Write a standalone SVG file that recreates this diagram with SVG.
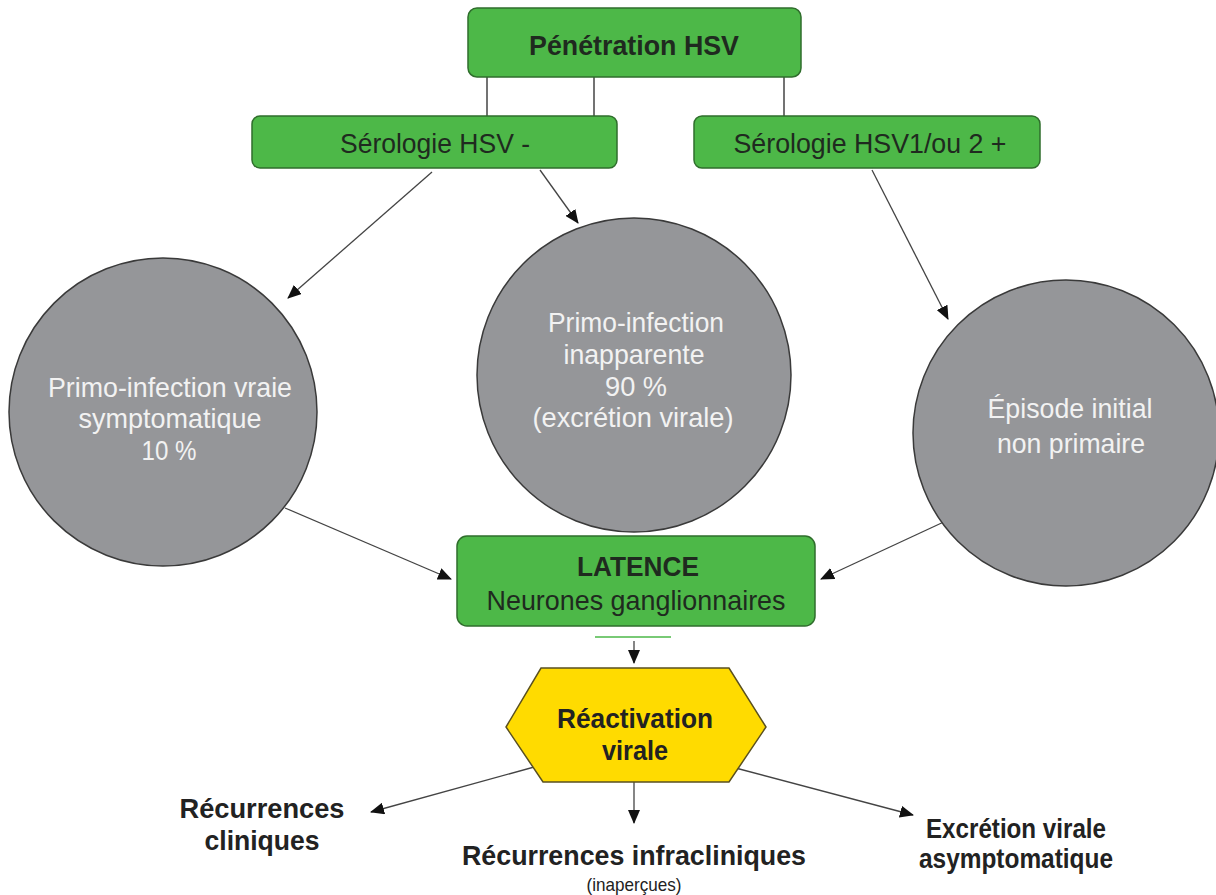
<svg xmlns="http://www.w3.org/2000/svg" width="1216" height="895" viewBox="0 0 1216 895">
<defs>
<style>
.box{fill:#4db848;stroke:#2f6e2c;stroke-width:1.5}
.circ{fill:#959699;stroke:#3a3a3a;stroke-width:1.5}
.hex{fill:#ffdb00;stroke:#5a5020;stroke-width:1.5}
.t{font-family:"Liberation Sans",Arial,sans-serif;font-size:28px;text-anchor:middle}
.dark{fill:#1f2a1f}
.b{font-weight:bold}
.w{fill:#f2f2f2}
.k{fill:#222}
.ln{stroke:#444;stroke-width:1.5;fill:none}
.ar{stroke:#444;stroke-width:1.3;fill:none;marker-end:url(#ah)}
</style>
<marker id="ah" markerWidth="14" markerHeight="12" refX="13" refY="6" orient="auto" markerUnits="userSpaceOnUse">
<path d="M0,0 L14,6 L0,12 Z" fill="#111"/>
</marker>
</defs>
<rect width="1216" height="895" fill="#ffffff"/>

<g id="connectors">
<line class="ln" x1="487" y1="77" x2="487" y2="116"/>
<line class="ln" x1="594" y1="77" x2="594" y2="116"/>
<line class="ln" x1="784" y1="77" x2="784" y2="116"/>
<line class="ar" x1="432" y1="172" x2="288" y2="298"/>
<line class="ar" x1="540" y1="170" x2="578" y2="223"/>
<line class="ar" x1="872" y1="170" x2="948" y2="319"/>
<line class="ar" x1="285" y1="508" x2="451" y2="579"/>
<line class="ar" x1="948" y1="520" x2="821" y2="579"/>
<line x1="595" y1="637" x2="671" y2="637" stroke="#4db848" stroke-width="1.5"/>
<line class="ar" x1="634" y1="641" x2="634" y2="663"/>
<line class="ar" x1="545" y1="764" x2="371" y2="812"/>
<line class="ar" x1="634" y1="782" x2="634" y2="823"/>
<line class="ar" x1="728" y1="766" x2="913" y2="815"/>
</g>

<g id="penetration">
<rect class="box" x="468" y="8" width="333" height="69" rx="9"/>
<text class="t b dark" x="634" y="55" textLength="210" lengthAdjust="spacingAndGlyphs">Pénétration HSV</text>
</g>
<g id="serologie-neg">
<rect class="box" x="252" y="116" width="365" height="52" rx="8"/>
<text class="t dark" x="435" y="153" textLength="190" lengthAdjust="spacingAndGlyphs">Sérologie HSV -</text>
</g>
<g id="serologie-pos">
<rect class="box" x="694" y="116" width="346" height="52" rx="8"/>
<text class="t dark" x="870" y="153" textLength="273" lengthAdjust="spacingAndGlyphs">Sérologie HSV1/ou 2 +</text>
</g>

<g id="primo-vraie">
<circle class="circ" cx="163" cy="412" r="154"/>
<text class="t w" x="170" y="397" textLength="244" lengthAdjust="spacingAndGlyphs">Primo-infection vraie</text>
<text class="t w" x="170" y="428" textLength="183" lengthAdjust="spacingAndGlyphs">symptomatique</text>
<text class="t w" x="169" y="460" textLength="55" lengthAdjust="spacingAndGlyphs">10 %</text>
</g>
<g id="primo-inapparente">
<circle class="circ" cx="634" cy="375" r="157"/>
<text class="t w" x="636" y="332" textLength="176" lengthAdjust="spacingAndGlyphs">Primo-infection</text>
<text class="t w" x="634" y="364" textLength="141" lengthAdjust="spacingAndGlyphs">inapparente</text>
<text class="t w" x="636" y="396" textLength="62" lengthAdjust="spacingAndGlyphs">90 %</text>
<text class="t w" x="633" y="427" textLength="201" lengthAdjust="spacingAndGlyphs">(excrétion virale)</text>
</g>
<g id="episode-initial">
<circle class="circ" cx="1066" cy="433" r="153"/>
<text class="t w" x="1070" y="418" textLength="165" lengthAdjust="spacingAndGlyphs">Épisode initial</text>
<text class="t w" x="1071" y="453" textLength="148" lengthAdjust="spacingAndGlyphs">non primaire</text>
</g>

<g id="latence">
<rect class="box" x="457" y="536" width="358" height="90" rx="10"/>
<text class="t b dark" x="638" y="576" textLength="122" lengthAdjust="spacingAndGlyphs">LATENCE</text>
<text class="t dark" x="636" y="610" textLength="299" lengthAdjust="spacingAndGlyphs">Neurones ganglionnaires</text>
</g>

<g id="reactivation">
<polygon class="hex" points="541,668 729,668 766,727 729,782 543,782 506,727"/>
<text class="t b k" x="635" y="728" textLength="156" lengthAdjust="spacingAndGlyphs">Réactivation</text>
<text class="t b k" x="635" y="760" textLength="66" lengthAdjust="spacingAndGlyphs">virale</text>
</g>

<g id="recurrences-cliniques">
<text class="t b k" x="262" y="818" textLength="165" lengthAdjust="spacingAndGlyphs">Récurrences</text>
<text class="t b k" x="262" y="850" textLength="115" lengthAdjust="spacingAndGlyphs">cliniques</text>
</g>
<g id="recurrences-infracliniques">
<text class="t b k" x="634" y="865" textLength="344" lengthAdjust="spacingAndGlyphs">Récurrences infracliniques</text>
<text class="t k" x="634" y="891" style="font-size:19px" textLength="95" lengthAdjust="spacingAndGlyphs">(inaperçues)</text>
</g>
<g id="excretion-virale">
<text class="t b k" x="1016" y="838" textLength="180" lengthAdjust="spacingAndGlyphs">Excrétion virale</text>
<text class="t b k" x="1016" y="868" textLength="194" lengthAdjust="spacingAndGlyphs">asymptomatique</text>
</g>
</svg>
